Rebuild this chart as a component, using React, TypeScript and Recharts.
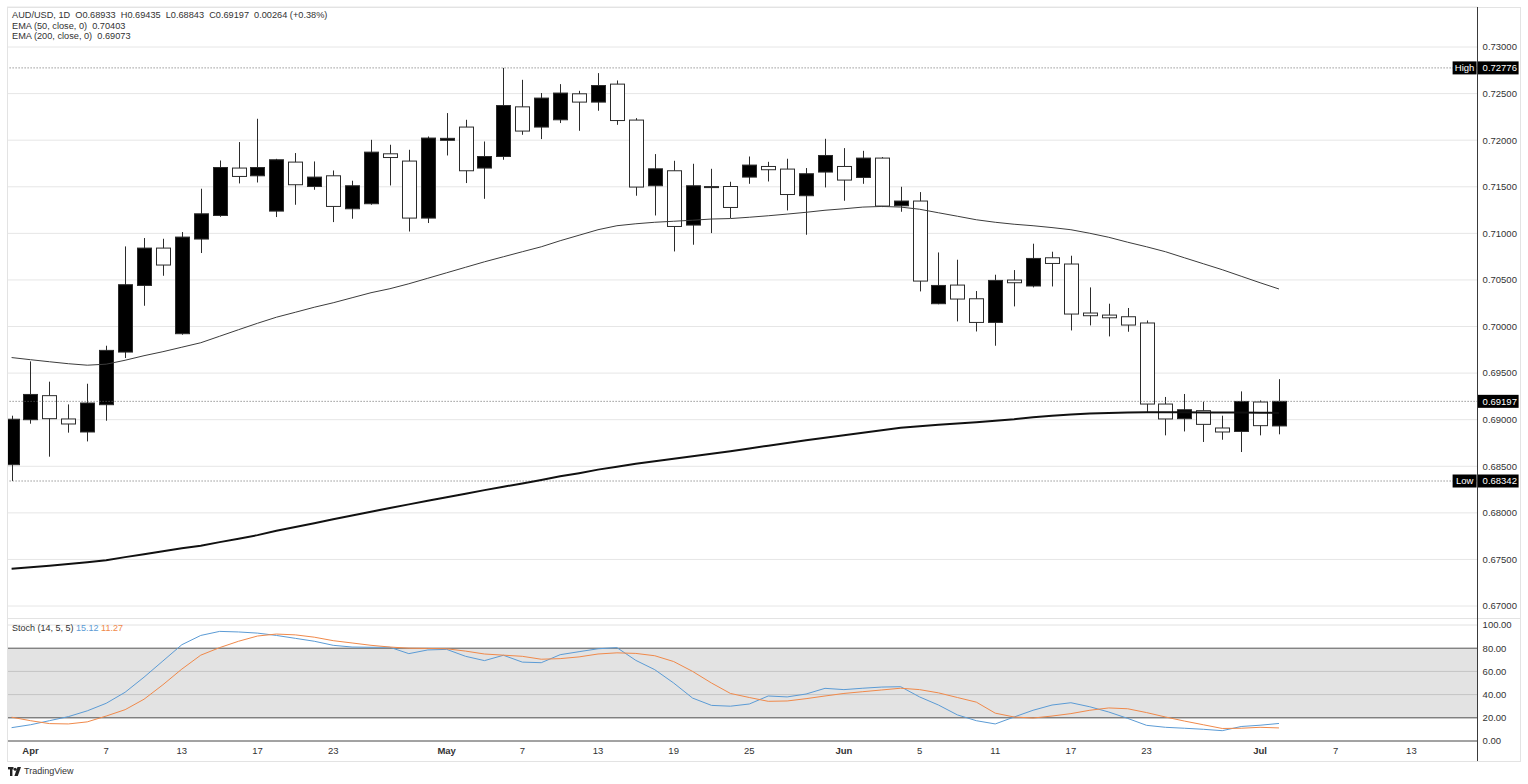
import {
  Bar,
  CartesianGrid,
  ComposedChart,
  Line,
  ReferenceArea,
  ReferenceLine,
  XAxis,
  YAxis,
} from 'recharts'

const dates = [
  '03-31', '04-01', '04-02', '04-03', '04-06', '04-07', '04-08', '04-09', '04-10', '04-13',
  '04-14', '04-15', '04-16', '04-17', '04-20', '04-21', '04-22', '04-23', '04-24', '04-27',
  '04-28', '04-29', '04-30', '05-01', '05-04', '05-05', '05-06', '05-07', '05-08', '05-11',
  '05-12', '05-13', '05-14', '05-15', '05-18', '05-19', '05-20', '05-21', '05-22', '05-25',
  '05-26', '05-27', '05-28', '05-29', '06-01', '06-02', '06-03', '06-04', '06-05', '06-08',
  '06-09', '06-10', '06-11', '06-12', '06-15', '06-16', '06-17', '06-18', '06-19', '06-22',
  '06-23', '06-24', '06-25', '06-26', '06-29', '06-30', '07-01', '07-02', '07-03', '07-06',
  '07-07', '07-08', '07-09', '07-10', '07-13', '07-14', '07-15', '07-16',
]

const open = [
  0.68517, 0.69, 0.69258, 0.69008, 0.68868, 0.69161, 0.69726, 0.70441, 0.70842, 0.69923,
  0.70939, 0.71192, 0.71701, 0.71618, 0.71239, 0.71765, 0.71503, 0.71618, 0.71264, 0.71318,
  0.71854, 0.71776, 0.71164, 0.71999, 0.72141, 0.71701, 0.71825, 0.72358, 0.72141, 0.72219,
  0.72498, 0.72409, 0.72602, 0.72216, 0.71511, 0.71672, 0.71089, 0.71497, 0.71503, 0.71604,
  0.71718, 0.7169, 0.71404, 0.71658, 0.71718, 0.716, 0.71808, 0.71296, 0.71347, 0.70245,
  0.70445, 0.70298, 0.70044, 0.70499, 0.70435, 0.70738, 0.70671, 0.70145, 0.70123, 0.70105,
  0.70038, 0.69168, 0.69011, 0.69097, 0.68911, 0.68874, 0.6919, 0.68933,
]
const high = [
  0.69043, 0.69626, 0.69408, 0.69164, 0.69386, 0.69794, 0.7086, 0.7095, 0.70942, 0.71014,
  0.71479, 0.71782, 0.7198, 0.7223, 0.718, 0.71862, 0.71772, 0.71675, 0.71565, 0.72004,
  0.71951, 0.71897, 0.7204, 0.72291, 0.72219, 0.71986, 0.72776, 0.72648, 0.72506, 0.72602,
  0.7253, 0.7272, 0.72641, 0.72237, 0.71851, 0.71779, 0.71747, 0.71693, 0.71554, 0.71825,
  0.71768, 0.71801, 0.71701, 0.72015, 0.71915, 0.71886, 0.71819, 0.715, 0.71443, 0.70795,
  0.70717, 0.70381, 0.70556, 0.70606, 0.70889, 0.70803, 0.7076, 0.7042, 0.70245, 0.70199,
  0.70065, 0.69244, 0.69276, 0.69193, 0.69043, 0.69304, 0.69207, 0.69435,
]
const low = [
  0.68342, 0.68957, 0.68603, 0.68861, 0.68767, 0.68989, 0.69662, 0.70223, 0.70545, 0.69912,
  0.70789, 0.71178, 0.71536, 0.71546, 0.71175, 0.71307, 0.71468, 0.71121, 0.71157, 0.71307,
  0.71514, 0.7102, 0.71111, 0.71836, 0.7154, 0.71371, 0.7179, 0.72058, 0.72012, 0.72184,
  0.72101, 0.72316, 0.72165, 0.71404, 0.71192, 0.70806, 0.70878, 0.71003, 0.71164, 0.71532,
  0.71557, 0.71246, 0.70985, 0.71493, 0.7135, 0.71532, 0.71282, 0.71232, 0.70377, 0.70239,
  0.70055, 0.69947, 0.69794, 0.70216, 0.7042, 0.7043, 0.69958, 0.70012, 0.69894, 0.69944,
  0.69083, 0.68832, 0.68874, 0.68761, 0.68785, 0.68653, 0.68832, 0.68843,
]
const close = [
  0.69005, 0.69271, 0.69011, 0.68954, 0.69179, 0.69744, 0.70449, 0.70842, 0.7066, 0.7096,
  0.7121, 0.71707, 0.71611, 0.71707, 0.7179, 0.71522, 0.71604, 0.71289, 0.71511, 0.71872,
  0.71814, 0.71164, 0.72023, 0.7202, 0.71672, 0.71825, 0.72372, 0.72098, 0.72452, 0.72506,
  0.72409, 0.72587, 0.72211, 0.71497, 0.71693, 0.71074, 0.71511, 0.71502, 0.71278, 0.71733,
  0.71683, 0.71417, 0.7164, 0.71836, 0.71572, 0.71808, 0.71293, 0.71347, 0.70488, 0.70441,
  0.70295, 0.70044, 0.70495, 0.7047, 0.70731, 0.70677, 0.70134, 0.70116, 0.70094, 0.70016,
  0.69168, 0.69008, 0.69107, 0.6895, 0.68868, 0.69196, 0.68936, 0.69197,
]

const ema50 = [
  0.69667, 0.69644, 0.69622, 0.69601, 0.69585, 0.69596, 0.69638, 0.69687, 0.6973, 0.69778,
  0.69826, 0.69896, 0.69966, 0.70035, 0.701, 0.70153, 0.70207, 0.70255, 0.70309, 0.70363,
  0.70406, 0.70459, 0.70518, 0.70577, 0.70636, 0.70695, 0.70749, 0.70803, 0.70856, 0.70921,
  0.7098, 0.71039, 0.71082, 0.71103, 0.71119, 0.7113, 0.71141, 0.71154, 0.71159, 0.71173,
  0.71189, 0.71207, 0.71226, 0.71248, 0.71264, 0.71282, 0.71289, 0.71282, 0.71259, 0.71221,
  0.71184, 0.71146, 0.71119, 0.71098, 0.71082, 0.71062, 0.71039, 0.71001, 0.70958, 0.70905,
  0.70856, 0.70803, 0.70738, 0.70674, 0.7061, 0.7054, 0.7047, 0.70403,
]
const ema200 = [
  0.67401, 0.67417, 0.67433, 0.6745, 0.67471, 0.67492, 0.67525, 0.67557, 0.67589, 0.67621,
  0.67648, 0.67686, 0.67723, 0.67761, 0.67809, 0.67849, 0.67889, 0.67932, 0.67972, 0.68013,
  0.68053, 0.68091, 0.68131, 0.68168, 0.68206, 0.68244, 0.68281, 0.68315, 0.68353, 0.68392,
  0.68426, 0.68464, 0.68496, 0.68528, 0.68555, 0.68582, 0.68608, 0.68635, 0.68662, 0.68692,
  0.68721, 0.6875, 0.6878, 0.68807, 0.68834, 0.68861, 0.68887, 0.68914, 0.6893, 0.68946,
  0.68959, 0.68973, 0.68989, 0.69005, 0.69027, 0.69043, 0.69056, 0.69067, 0.69073, 0.69078,
  0.6908, 0.6908, 0.69079, 0.69078, 0.69077, 0.69076, 0.69075, 0.69073,
]

const stochK = [
  11.5, 14, 17.5, 21, 26, 32.5, 42, 55, 69, 83,
  91, 94.5, 94, 93, 91, 88.5, 86, 82.5, 81, 80.8,
  80.8, 75.3, 78.5, 79, 73, 69.3, 73.9, 68, 67.5, 74.4,
  77, 79.5, 80.5, 69.5, 61.5, 50, 37, 30.7, 30, 31.9,
  38.8, 38, 40.5, 45.4, 44.3, 45.5, 46.5, 46.8, 38, 31,
  22.5, 17.5, 14.7, 20.7, 26.5, 31, 33, 29.5, 25, 19.5,
  13.5, 11.8, 11, 10.1, 8.9, 12.5, 13.6, 15.12,
]
const stochD = [
  20.5, 17.5, 15, 14.7, 16.5, 21.5, 27, 36, 48.5, 62,
  74, 80.5, 86, 90.5, 92.2, 91.5, 89.5, 86.5, 84.5, 82.5,
  81, 80, 79.8, 79.5, 77.5, 75, 74, 73, 70.5, 71,
  72.5, 75, 76, 75.5, 73.5, 68.5, 60, 50, 41, 37.5,
  34.2, 34.5, 36.5, 38.8, 41, 42.5, 44, 45.5, 44.3, 41.5,
  37.5, 33.5, 24, 20.7, 19.8, 21.5, 23.6, 26.5, 28.5, 27.8,
  24.5, 20.7, 17.2, 14, 10.8, 11, 11.8, 11.27,
]

const priceTicks = [
  0.67, 0.675, 0.68, 0.685, 0.69, 0.695, 0.7, 0.705, 0.71, 0.715, 0.72, 0.725, 0.73,
]
const stochTicks = [0, 20, 40, 60, 80, 100]
const dateTicks = [
  '04-01', '04-07', '04-13', '04-17', '04-23', '05-01', '05-07', '05-13', '05-19',
  '05-25', '06-01', '06-05', '06-11', '06-17', '06-23', '07-01', '07-07', '07-13',
]
const dateTickLabels = [
  'Apr', '7', '13', '17', '23', 'May', '7', '13', '19',
  '25', 'Jun', '5', '11', '17', '23', 'Jul', '7', '13',
]

const sessionHigh = 0.72776
const sessionLow = 0.68342
const lastPrice = 0.69197

const rows = dates.map((date, i) =>
  i < open.length
    ? {
        date,
        open: open[i],
        high: high[i],
        low: low[i],
        close: close[i],
        range: [low[i], high[i]],
        ema50: ema50[i],
        ema200: ema200[i],
        k: stochK[i],
        d: stochD[i],
      }
    : { date },
)

const FONT = "'Liberation Sans', Arial, sans-serif"
const TEXT = '#333'
const LEFT = 2.14
const AXIS_W = 50.4
const K_COLOR = '#5b9bd5'
const D_COLOR = '#f0894a'

function Candle(props: any) {
  const { x, y, width, height, payload } = props
  if (payload == null || payload.open == null) return null
  const top = Math.min(y, y + height)
  const h = Math.abs(height)
  const span = payload.high - payload.low || 1e-9
  const py = (p: number) => top + ((payload.high - p) / span) * h
  const cx = Math.round(x + width / 2) + 0.5
  const up = payload.close >= payload.open
  const bodyTop = py(Math.max(payload.open, payload.close))
  const bodyBot = py(Math.min(payload.open, payload.close))
  return (
    <g>
      <line x1={cx} x2={cx} y1={top} y2={top + h} stroke="#2b2b2b" strokeWidth={1} />
      <rect
        x={cx - 7}
        y={bodyTop}
        width={14}
        height={Math.max(bodyBot - bodyTop, 1)}
        fill={up ? '#000' : '#fff'}
        stroke="#2b2b2b"
        strokeWidth={1}
      />
    </g>
  )
}

function priceTag(value: string, name?: string) {
  return (props: any) => {
    const vb = props.viewBox
    const ax = vb.x + vb.width
    const y = vb.y
    return (
      <g fontFamily={FONT} fontSize={9.5}>
        {name && (
          <g>
            <rect x={ax - 25} y={y - 6.5} width={24} height={13} fill="#000" />
            <text x={ax - 13} y={y + 3.3} fill="#fff" textAnchor="middle">
              {name}
            </text>
          </g>
        )}
        <rect x={ax} y={y - 6.5} width={41} height={13} fill="#000" />
        <text x={ax + 5} y={y + 3.3} fill="#fff">
          {value}
        </text>
      </g>
    )
  }
}

function DateTick(props: any) {
  const { x, y, payload } = props
  const label = dateTickLabels[dateTicks.indexOf(payload.value)]
  const month = isNaN(Number(label))
  return (
    <text
      x={x}
      y={y + 4.5}
      textAnchor="middle"
      fontSize={9.5}
      fontFamily={FONT}
      fontWeight={month ? 700 : 400}
      fill={TEXT}
    >
      {label}
    </text>
  )
}

export default function App() {
  return (
    <div
      style={{
        position: 'absolute',
        left: 0,
        top: 0,
        width: 1528,
        height: 784,
        background: '#fff',
        fontFamily: FONT,
        overflow: 'hidden',
      }}
    >
      <div style={{ position: 'absolute', left: 0, top: 0 }}>
        <ComposedChart
          width={1528}
          height={619}
          data={rows}
          margin={{ top: 7, right: 0, bottom: 0, left: LEFT }}
        >
          <CartesianGrid vertical={false} stroke="#e6e6e6" />
          <XAxis dataKey="date" hide />
          <YAxis
            orientation="right"
            type="number"
            domain={[0.668608, 0.734297]}
            allowDataOverflow
            ticks={priceTicks}
            tickFormatter={(v: number) => v.toFixed(5)}
            width={AXIS_W}
            axisLine={false}
            tickLine={false}
            tickSize={3}
            tickMargin={2}
            tick={{ fontSize: 9.5, fill: TEXT, fontFamily: FONT }}
          />
          <ReferenceLine
            y={sessionHigh}
            stroke="#666"
            strokeDasharray="1 2"
            label={priceTag(sessionHigh.toFixed(5), 'High')}
          />
          <ReferenceLine
            y={sessionLow}
            stroke="#666"
            strokeDasharray="1 2"
            label={priceTag(sessionLow.toFixed(5), 'Low')}
          />
          <ReferenceLine
            y={lastPrice}
            stroke="#666"
            strokeDasharray="1 2"
            label={priceTag(lastPrice.toFixed(5))}
          />
          <Bar
            dataKey="range"
            shape={(p: any) => <Candle {...p} />}
            isAnimationActive={false}
          />
          <Line
            type="linear"
            dataKey="ema50"
            stroke="#3c3c3c"
            strokeWidth={1}
            dot={false}
            activeDot={false}
            isAnimationActive={false}
          />
          <Line
            type="linear"
            dataKey="ema200"
            stroke="#111"
            strokeWidth={2}
            dot={false}
            activeDot={false}
            isAnimationActive={false}
          />
        </ComposedChart>
      </div>

      <div style={{ position: 'absolute', left: 0, top: 619 }}>
        <ComposedChart
          width={1528}
          height={146}
          data={rows}
          margin={{ top: 6, right: 0, bottom: 0, left: LEFT }}
        >
          <ReferenceArea y1={20} y2={80} fill="#e3e3e3" fillOpacity={1} stroke="none" />
          <CartesianGrid vertical={false} stroke="#e2e2e2" />
          <XAxis
            dataKey="date"
            scale="band"
            ticks={dateTicks}
            interval={0}
            tick={<DateTick />}
            tickLine={false}
            tickSize={6}
            tickMargin={2}
            axisLine={{ stroke: '#555' }}
            height={24}
          />
          <YAxis
            orientation="right"
            type="number"
            domain={[0, 100]}
            ticks={stochTicks}
            tickFormatter={(v: number) => v.toFixed(2)}
            width={AXIS_W}
            axisLine={false}
            tickLine={false}
            tickSize={3}
            tickMargin={2}
            tick={{ fontSize: 9.5, fill: TEXT, fontFamily: FONT }}
          />
          <ReferenceLine y={60} stroke="#c4c4c4" />
          <ReferenceLine y={40} stroke="#c4c4c4" />
          <ReferenceLine y={80} stroke="#555" />
          <ReferenceLine y={20} stroke="#555" />
          <Line
            type="linear"
            dataKey="k"
            stroke={K_COLOR}
            strokeWidth={1}
            dot={false}
            activeDot={false}
            isAnimationActive={false}
          />
          <Line
            type="linear"
            dataKey="d"
            stroke={D_COLOR}
            strokeWidth={1}
            dot={false}
            activeDot={false}
            isAnimationActive={false}
          />
        </ComposedChart>
      </div>

      {/* frame, pane separator, price scale line */}
      <div style={{ position: 'absolute', left: 0, top: 0, width: 7, height: 784, background: '#fff' }} />
      <div
        style={{
          position: 'absolute',
          left: 7,
          top: 7,
          width: 1512,
          height: 753,
          border: '1px solid #e3e3e3',
          pointerEvents: 'none',
        }}
      />
      <div style={{ position: 'absolute', left: 7, top: 618, width: 1513, height: 1, background: '#e3e3e3' }} />
      <div style={{ position: 'absolute', left: 1477, top: 7, width: 1, height: 754, background: '#3a3a3a' }} />

      <div
        style={{
          position: 'absolute',
          left: 12,
          top: 10,
          fontSize: 9.2,
          lineHeight: '10.6px',
          color: TEXT,
          whiteSpace: 'pre',
        }}
      >
        <div>AUD/USD, 1D  O0.68933  H0.69435  L0.68843  C0.69197  0.00264 (+0.38%)</div>
        <div>EMA (50, close, 0)  0.70403</div>
        <div>EMA (200, close, 0)  0.69073</div>
      </div>
      <div
        style={{
          position: 'absolute',
          left: 12,
          top: 623,
          fontSize: 9,
          lineHeight: '10.6px',
          color: TEXT,
          whiteSpace: 'pre',
        }}
      >
        Stoch (14, 5, 5) <span style={{ color: K_COLOR }}>15.12</span>{' '}
        <span style={{ color: D_COLOR }}>11.27</span>
      </div>

      <div
        style={{
          position: 'absolute',
          left: 8,
          top: 766,
          display: 'flex',
          alignItems: 'center',
          gap: 3,
          fontSize: 9,
          color: TEXT,
        }}
      >
        <svg width={13} height={9} viewBox="0 0 13 9">
          <rect x={0} y={0} width={5.5} height={2.4} fill="#222" />
          <rect x={2} y={0} width={2.4} height={9} fill="#222" />
          <circle cx={7.2} cy={2.2} r={1.5} fill="#222" />
          <polygon points="9.5,0 13,0 9.8,9 6.4,9" fill="#222" />
        </svg>
        <span>TradingView</span>
      </div>
    </div>
  )
}
